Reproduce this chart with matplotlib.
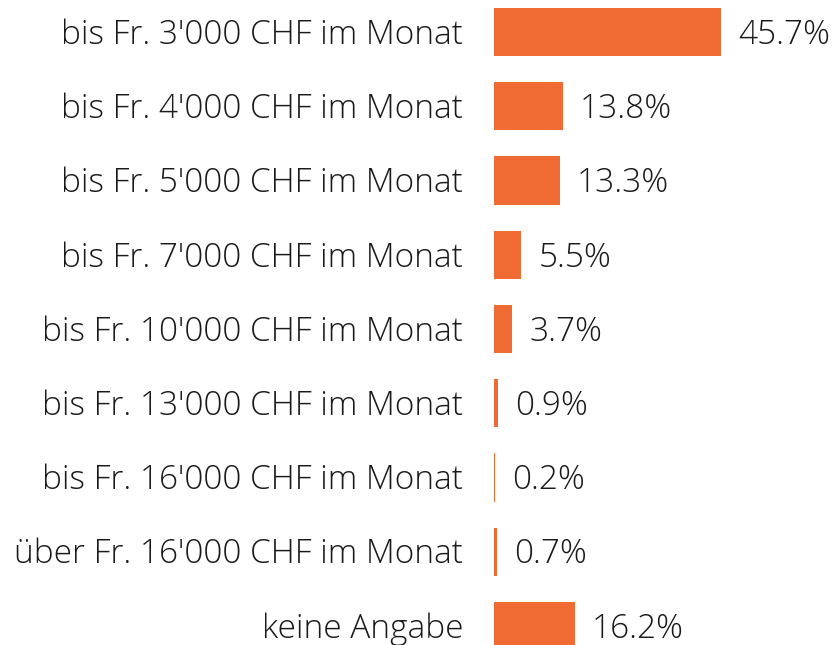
import matplotlib
matplotlib.use("Agg")
import matplotlib.pyplot as plt
from matplotlib.transforms import offset_copy

# Data
categories = [
    "bis Fr. 3'000 CHF im Monat",
    "bis Fr. 4'000 CHF im Monat",
    "bis Fr. 5'000 CHF im Monat",
    "bis Fr. 7'000 CHF im Monat",
    "bis Fr. 10'000 CHF im Monat",
    "bis Fr. 13'000 CHF im Monat",
    "bis Fr. 16'000 CHF im Monat",
    "über Fr. 16'000 CHF im Monat",
    "keine Angabe",
]
values = [45.7, 13.8, 13.3, 5.5, 3.7, 0.9, 0.2, 0.7, 16.2]
value_labels = ["45.7%", "13.8%", "13.3%", "5.5%", "3.7%", "0.9%", "0.2%", "0.7%", "16.2%"]

plt.rcParams['font.family'] = ['Open Sans', 'DejaVu Sans']

W, H = 833, 645
fig = plt.figure(figsize=(W / 100, H / 100), dpi=100)
ax = fig.add_axes([494 / W, 0, 1 - 494 / W, 1])

ypos = list(range(len(categories)))
ax.barh(ypos, values, height=0.65, color='#F06A33')

ax.set_xlim(0, (W - 494) / 4.97)
ax.set_ylim(8 + 19 / 74, -32 / 74)
ax.axis('off')

lbl_trans = offset_copy(ax.get_yaxis_transform(), fig=fig, x=-31, y=-3, units='dots')
val_trans = offset_copy(ax.transData, fig=fig, x=17, y=-3, units='dots')
for y, cat, v, vl in zip(ypos, categories, values, value_labels):
    ax.text(0, y, cat, transform=lbl_trans, ha='right', va='center',
            fontsize=24, fontweight='light', color='#1a1a1a', clip_on=False)
    ax.text(v, y, vl, transform=val_trans, ha='left', va='center',
            fontsize=24, fontweight='light', color='#1a1a1a', clip_on=False)

fig.savefig('out.png', dpi=100)
